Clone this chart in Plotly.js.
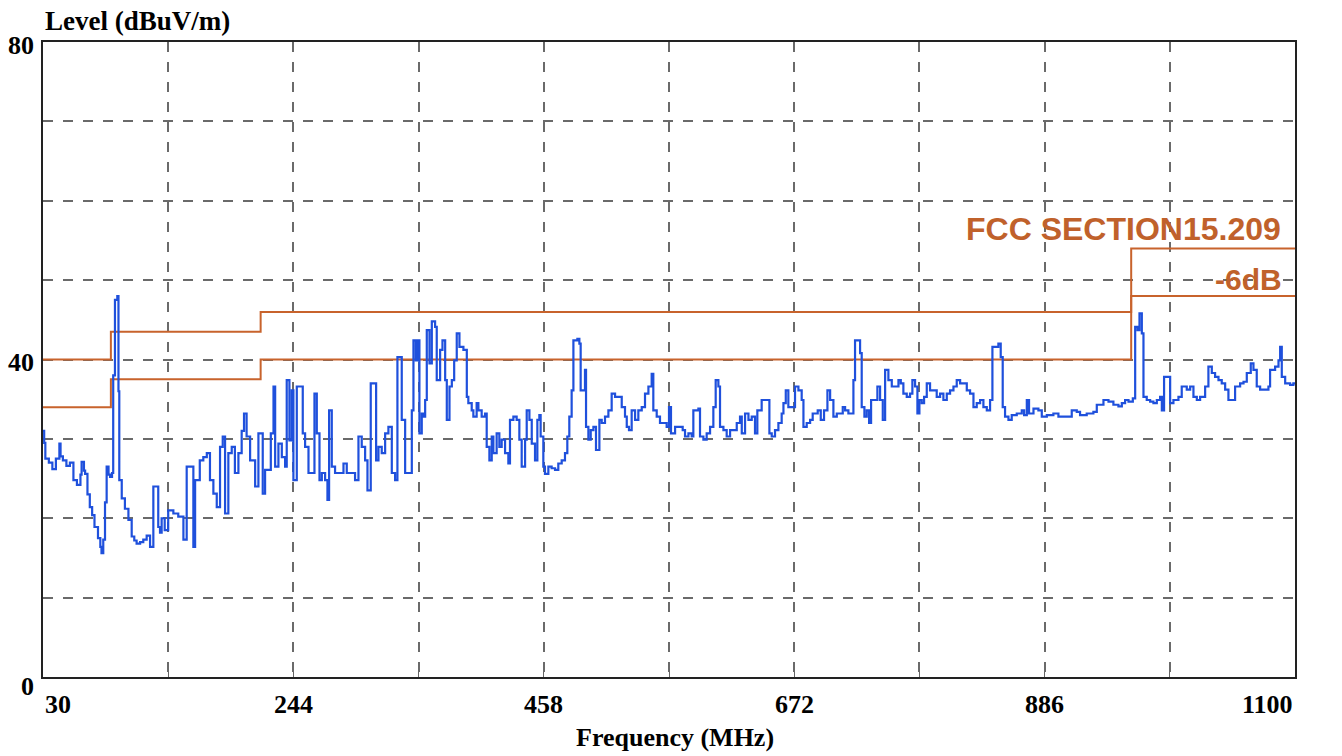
<!DOCTYPE html>
<html>
<head>
<meta charset="utf-8">
<script src="https://cdn.plot.ly/plotly-3.0.1.min.js"></script>
<style>
html,body{margin:0;padding:0;background:#fff;}
#chart{width:1342px;height:756px;}
</style>
</head>
<body>
<div id="chart"></div>
<script>
// Measured trace (frequency in MHz, level in dBuV/m)
const traceFreq = [
30,31,32,35,38,41,44,45,47,50,53,56,59,62,63,65,66,68,70,72,74,77,79,80,81.5,83,84.4,86,87.3,89,90,91.5,93.5,94.5,95.2,
97.3,100,103,105.8,108,110,113,115.7,118.6,121.5,124.3,127,128.5,130,131.4,134,137,141.4,145.6,150,152.8,157,158.5,160,
164,167,170,172.7,175.6,178.5,181.3,183.6,185.6,188.4,191.3,194,197,199.8,201.8,204,207,211.3,214.1,217,217.8,219.8,222.7,
224.7,227,228.4,231.2,234.1,236.9,238.3,240.6,242.6,244,246.9,249.7,252,254,256.9,259.7,262,264,266.3,268.3,271.1,273.1,
274.5,276,276.8,279.6,283.9,286.8,289.6,292.5,296.7,299.6,302.4,305.3,307.3,310.1,313,314.7,316.7,319.5,322.4,325.2,328.1,
330.9,332.9,335.2,336.6,339.5,342.3,345.2,346.6,348.6,350.3,351.7,353.7,355.1,356.6,358,360.3,362.3,365.1,366.5,369.4,
371.4,373.7,375.1,377.4,379.4,381.4,383.6,385.9,389.3,392.2,393.5,396.4,397.8,400.6,402.1,404.9,407.8,409.2,411.5,413.5,
414.9,417.7,420,422,424.9,427.7,429.1,432,434.8,437.1,439.1,442,443.4,445.7,447.7,450.5,452.5,454.2,455.3,457.6,459,461.9,
464.7,467.6,470.4,473.3,476.1,478.1,479.8,481.8,483.3,486.7,488.4,489.5,491.8,493.2,494.1,496.1,498.1,500.4,502.6,505.5,
507.5,510.3,513.2,516,518.9,521.7,524.6,527.4,528.9,530.8,533.1,536,538.8,541.7,544.5,547.4,550.2,551.6,554.5,557.3,560.2,
563,565,566.7,570.2,573,576.7,578.7,581.6,584.4,585.8,590.1,591.5,594.4,597.2,600.1,602.9,604.9,607.2,608.6,611.5,614.3,
617.2,620,622.9,625.7,627.2,630,632.9,635.7,638.5,640.5,644.2,648.5,650.8,652.8,655.6,658.5,661.3,662.8,664.8,667,669.9,
672.7,675.6,678.4,679.9,682.7,685.6,687.8,689.8,692.1,694.7,697.5,700.4,702.7,705.5,708.4,711.2,713.5,715.5,718.3,721.2,
722.6,724,726.9,728.3,729.7,732,734,736,737.7,741.1,743.1,745.4,747.7,749.7,752.5,755.4,758.2,761.1,763.1,765.3,768.2,771,
773,775.3,777.3,779,781,783,785.3,788.1,791,793.8,796.7,799.5,802.4,805.2,808.1,810.9,813.8,816.6,819.5,822.3,825.2,828,
830.9,833.7,836.6,839.4,841.4,843.7,846.5,848.5,850.2,852.2,855.1,857.9,862.2,866.5,868.5,870.8,872.7,876.5,880.7,883.6,
887.9,893.5,897.8,905,909.2,913.5,916.3,922,927.7,930.6,936.3,940.6,944.8,949.1,952,954.8,957.7,961.4,963.4,965.4,967.1,
969.1,970.5,973.3,976.2,979,981.9,984.7,986.2,988.1,991.9,993.3,996.1,1000.4,1003.2,1007.5,1010.4,1013.2,1016.1,1018.9,
1023.2,1026,1028.9,1031.7,1034.6,1037.4,1040.3,1043.1,1046,1048.8,1053.1,1056,1058.8,1062.2,1064.5,1067.3,1070.2,1073,
1077.3,1078.7,1083,1085.9,1087.3,1088.7,1091.6,1095.8,1098.6,1100
];
const traceLevel = [
31.0,29.5,27.5,27.0,26.2,27.5,29.4,27.8,27.3,26.6,27.0,24.8,24.2,25.5,27.1,26.0,25.6,23.0,21.4,20.4,18.9,17.5,16.4,15.6,17.3,22.0,26.5,25.5,25.2,25.7,38.0,47.5,48.0,36.0,24.8,
22.5,21.2,19.8,17.7,17.2,16.8,17.0,17.3,17.8,16.4,24.0,24.0,18.9,18.2,20.0,18.5,21.0,20.6,20.2,17.3,26.5,26.5,16.4,24.8,
27.3,27.7,28.2,24.8,23.1,21.4,29.0,30.3,20.6,28.2,29.0,25.7,28.2,31.0,33.2,30.3,27.3,24.0,30.7,30.7,23.1,26.1,26.1,
30.7,36.6,26.5,29.4,27.7,26.5,37.4,29.8,36.1,24.8,36.6,36.6,30.7,29.0,25.7,25.7,35.7,30.7,24.8,25.7,24.8,22.3,
33.6,33.6,26.5,25.7,25.7,26.9,25.7,25.7,24.8,30.3,29.0,27.3,23.5,37.0,37.0,27.3,29.0,28.2,30.7,31.5,25.7,
24.8,40.3,40.3,32.4,25.7,25.7,33.6,42.4,39.9,42.4,30.7,33.2,32.8,34.9,43.7,39.5,44.8,44.1,37.4,41.2,
42.4,37.4,32.4,36.6,37.4,39.9,43.3,41.6,41.2,35.3,34.5,33.6,32.8,34.5,33.6,32.8,33.2,29.0,27.3,30.3,
28.2,30.7,29.0,29.9,28.2,26.9,32.4,32.8,32.4,29.9,26.5,29.9,33.6,32.4,29.4,27.3,32.4,33.0,30.3,26.5,25.6,26.5,
26.3,26.1,26.9,27.3,28.2,30.3,32.8,36.1,42.4,42.6,42.0,36.1,36.1,38.7,31.5,29.9,31.1,31.5,28.6,32.4,
32.0,32.8,33.6,35.7,35.3,35.3,34.0,32.8,31.5,31.1,33.6,32.4,33.6,34.0,35.7,36.6,38.2,33.6,32.8,32.0,32.0,
31.5,34.0,30.7,31.5,31.5,31.1,30.3,30.7,30.3,33.6,33.8,30.3,29.9,30.7,31.5,34.0,37.4,36.6,31.5,31.1,30.3,
31.1,31.1,32.0,32.8,30.7,33.2,32.4,32.8,30.7,33.6,34.9,34.9,30.7,30.3,31.1,32.0,33.2,34.5,36.1,34.0,34.0,
36.6,36.1,34.9,31.5,32.0,32.4,33.2,33.2,33.6,32.4,33.6,36.1,34.9,32.8,33.2,33.2,34.0,33.6,33.2,33.2,
37.4,42.4,42.4,40.8,34.0,32.8,33.6,32.0,34.9,34.9,36.6,34.9,32.4,38.7,37.4,36.6,36.6,37.4,37.0,35.7,35.3,35.7,
37.4,36.6,33.2,34.9,34.5,35.3,37.0,36.1,36.1,35.3,35.7,34.9,35.7,36.1,36.6,37.4,37.0,37.0,36.1,35.7,34.0,34.5,
34.9,34.0,33.6,34.9,41.6,41.6,42.0,40.3,34.0,32.8,32.4,33.0,33.2,33.6,33.0,34.9,33.2,33.8,33.6,32.8,
33.0,33.2,32.8,32.8,33.6,33.4,33.0,33.2,33.4,34.3,34.9,34.7,34.3,34.1,34.5,34.9,34.7,35.1,44.1,43.7,45.8,
43.3,35.3,34.9,34.7,34.5,34.9,35.3,33.6,37.8,37.8,34.5,34.9,35.3,36.6,36.2,36.6,35.3,34.9,35.3,
36.6,39.1,38.3,37.8,37.4,37.0,36.2,34.9,34.9,36.6,37.0,37.2,38.3,39.5,38.7,36.6,36.2,36.2,
36.6,38.7,39.1,39.9,41.6,37.8,37.0,36.8,37.0,37.0
];

// FCC Part 15.209 limit (step edges) and the -6 dB margin line
const limitFreq  = [30, 88, 216, 960, 1100];
const limitLevel = [40, 43.5, 46, 54, 54];
const marginDb = 6;
const marginLevel = limitLevel.map(v => v - marginDb);

// Axis labelling
const xTickVals = [30, 244, 458, 672, 886, 1100];
const xTickText = ['30', '244', '458', '672', '886', '1100'];
const yTickVals = [0, 40, 80];
const yTickText = ['0', '40', '80'];
const xTitle = 'Frequency (MHz)';
const yTitle = 'Level (dBuV/m)';
const limitLabel = 'FCC SECTION15.209';
const marginLabel = '-6dB';

const limitColor = '#c8632c';
const serif = '"Liberation Serif", "Times New Roman", serif';

const traces = [
  {x: limitFreq, y: limitLevel, mode: 'lines', line: {color: limitColor, width: 2, shape: 'hv'}, hoverinfo: 'skip'},
  {x: limitFreq, y: marginLevel, mode: 'lines', line: {color: limitColor, width: 2, shape: 'hv'}, hoverinfo: 'skip'},
  {x: traceFreq, y: traceLevel, mode: 'lines', line: {color: '#1f50dc', width: 2.2, shape: 'hv'}}
];

const annotations = [];
xTickVals.forEach((v, i) => {
  annotations.push({
    x: v, y: 0, xref: 'x', yref: 'y', text: '<b>' + xTickText[i] + '</b>', showarrow: false,
    xanchor: i === 0 ? 'left' : (i === xTickVals.length - 1 ? 'right' : 'center'),
    yanchor: 'middle', yshift: -27,
    font: {family: serif, size: 26, color: '#000'}
  });
});
yTickVals.forEach((v, i) => {
  annotations.push({
    x: 0, y: v, xref: 'paper', yref: 'y', text: '<b>' + yTickText[i] + '</b>', showarrow: false,
    xanchor: 'right', yanchor: 'middle', xshift: -7, yshift: v === 0 ? -9 : -3,
    font: {family: serif, size: 26, color: '#000'}
  });
});
annotations.push({
  x: 0, y: 1, xref: 'paper', yref: 'paper', text: '<b>' + yTitle + '</b>', showarrow: false,
  xanchor: 'left', yanchor: 'middle', yshift: 21,
  font: {family: serif, size: 27, color: '#000'}
});
annotations.push({
  x: 0.5, y: 0, xref: 'paper', yref: 'paper', text: '<b>' + xTitle + '</b>', showarrow: false,
  xanchor: 'center', yanchor: 'middle', xshift: 6, yshift: -60,
  font: {family: serif, size: 26, color: '#000'}
});
annotations.push({
  x: 1100, y: limitLevel[limitLevel.length - 1], xref: 'x', yref: 'y', text: '<b>' + limitLabel + '</b>', showarrow: false,
  xanchor: 'right', yanchor: 'middle', xshift: -12, yshift: 19,
  font: {family: '"Liberation Sans", Arial, sans-serif', size: 32, color: '#c0612b'}
});
annotations.push({
  x: 1100, y: marginLevel[marginLevel.length - 1], xref: 'x', yref: 'y', text: '<b>' + marginLabel + '</b>', showarrow: false,
  xanchor: 'right', yanchor: 'middle', xshift: -11, yshift: 17,
  font: {family: '"Liberation Sans", Arial, sans-serif', size: 30, color: '#c0612b'}
});

const layout = {
  width: 1342, height: 756,
  margin: {l: 43, r: 47, t: 42, b: 79, pad: 0},
  paper_bgcolor: '#fff', plot_bgcolor: '#fff',
  showlegend: false,
  xaxis: {
    range: [30, 1100], tick0: 30, dtick: 107, showticklabels: false,
    ticks: 'inside', ticklen: 5, tickcolor: '#666', tickwidth: 1,
    showgrid: true, gridcolor: '#6a6a6a', gridwidth: 2, griddash: '10px,10px',
    showline: true, linecolor: '#222', linewidth: 2, mirror: true, zeroline: false
  },
  yaxis: {
    range: [0, 80], tick0: 0, dtick: 10, showticklabels: false, ticks: '',
    showgrid: true, gridcolor: '#6a6a6a', gridwidth: 2, griddash: '10px,10px',
    showline: true, linecolor: '#222', linewidth: 2, mirror: true, zeroline: false
  },
  annotations: annotations
};

Plotly.newPlot('chart', traces, layout, {displayModeBar: false, staticPlot: true});
</script>
</body>
</html>
